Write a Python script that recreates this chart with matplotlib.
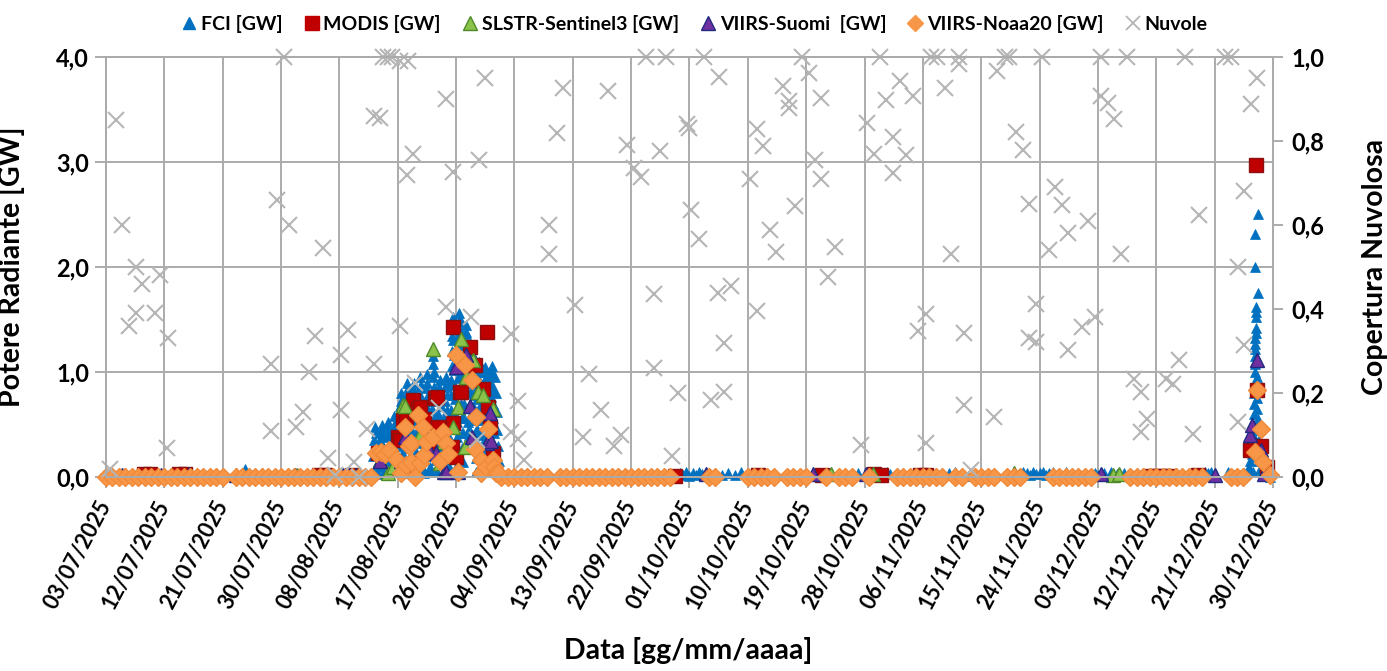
import matplotlib
matplotlib.use("Agg")
import matplotlib.pyplot as plt
import numpy as np
from matplotlib.lines import Line2D

plt.rcParams["font.family"] = ["Lato", "DejaVu Sans"]

# x values are days since 03/07/2025
date_labels = ["03/07/2025", "12/07/2025", "21/07/2025", "30/07/2025", "08/08/2025",
               "17/08/2025", "26/08/2025", "04/09/2025", "13/09/2025", "22/09/2025",
               "01/10/2025", "10/10/2025", "19/10/2025", "28/10/2025", "06/11/2025",
               "15/11/2025", "24/11/2025", "03/12/2025", "12/12/2025", "21/12/2025",
               "30/12/2025"]

# FCI - fire episode 17/08-01/09, one list of readings per day
fci_cluster_days = [41, 42, 43, 44, 45, 46, 47, 48, 49, 50, 51, 52, 53, 54, 55, 56, 57, 58, 59, 60]
fci_cluster_gw = [
    [0.02, 0.05, 0.2, 0.35, 0.48, 0.42, 0.28, 0.12],
    [0.03, 0.1, 0.22, 0.35, 0.46, 0.5, 0.4, 0.28, 0.15, 0.05],
    [0.04, 0.12, 0.25, 0.38, 0.48, 0.52, 0.43, 0.3, 0.18, 0.06],
    [0.05, 0.15, 0.28, 0.4, 0.5, 0.58, 0.5, 0.36, 0.22, 0.1],
    [0.06, 0.18, 0.3, 0.42, 0.55, 0.68, 0.8, 0.72, 0.6, 0.48, 0.35, 0.22, 0.1],
    [0.05, 0.15, 0.28, 0.4, 0.52, 0.65, 0.78, 0.9, 0.85, 0.72, 0.58, 0.45, 0.32, 0.2, 0.08],
    [0.04, 0.16, 0.3, 0.44, 0.58, 0.72, 0.84, 0.9, 0.8, 0.66, 0.52, 0.38, 0.24, 0.1],
    [0.05, 0.18, 0.32, 0.46, 0.6, 0.74, 0.86, 0.95, 0.88, 0.76, 0.62, 0.48, 0.34, 0.2, 0.08],
    [0.04, 0.16, 0.3, 0.44, 0.58, 0.72, 0.85, 0.98, 0.9, 0.78, 0.64, 0.5, 0.36, 0.22, 0.1],
    [0.06, 0.2, 0.35, 0.5, 0.65, 0.8, 0.95, 1.08, 1.15, 1.0, 0.86, 0.72, 0.58, 0.44, 0.3, 0.16],
    [0.05, 0.18, 0.32, 0.46, 0.6, 0.74, 0.86, 0.92, 0.82, 0.68, 0.54, 0.4, 0.26, 0.12],
    [0.04, 0.16, 0.3, 0.44, 0.58, 0.72, 0.86, 0.95, 0.9, 0.78, 0.64, 0.5, 0.36, 0.22, 0.1],
    [0.08, 0.22, 0.36, 0.5, 0.64, 0.78, 0.92, 1.06, 1.2, 1.34, 1.46, 1.52, 1.44, 1.3, 1.16, 1.02, 0.88, 0.74, 0.6, 0.46, 0.32, 0.18],
    [0.1, 0.24, 0.38, 0.52, 0.66, 0.8, 0.94, 1.08, 1.22, 1.36, 1.48, 1.56, 1.5, 1.4, 1.26, 1.12, 0.98, 0.84, 0.7, 0.56, 0.42, 0.28],
    [0.14, 0.28, 0.42, 0.56, 0.7, 0.84, 0.98, 1.12, 1.26, 1.38, 1.45, 1.36, 1.22, 1.08, 0.94, 0.8, 0.66, 0.52, 0.4],
    [0.36, 0.46, 0.58, 0.7, 0.82, 0.94, 1.06, 1.18, 1.25, 1.15, 1.02, 0.9, 0.78, 0.66, 0.54, 0.42],
    [0.05, 0.18, 0.32, 0.46, 0.6, 0.74, 0.88, 1.0, 1.1, 1.04, 0.92, 0.8, 0.68, 0.54, 0.4, 0.26, 0.12],
    [0.05, 0.18, 0.32, 0.46, 0.6, 0.74, 0.88, 1.0, 1.05, 0.95, 0.82, 0.68, 0.54, 0.4, 0.26, 0.12],
    [0.06, 0.2, 0.34, 0.48, 0.62, 0.76, 0.9, 1.02, 1.06, 0.96, 0.84, 0.7, 0.56, 0.42, 0.28, 0.14],
    [0.95, 0.8, 0.62, 0.45, 0.3, 0.15, 0.05, 0.02],
]

# FCI - end of December episode
fci_spike_days = [174.0, 174.5, 175.0, 175.5, 176.0, 176.3, 176.5, 176.7, 176.8, 176.9, 177.0, 177.0,
                  177.1, 177.1, 177.2, 177.2, 177.3, 177.3, 177.3, 177.3, 177.3, 177.35, 177.35,
                  177.4, 177.4, 177.4, 177.7, 177.3, 177.3, 177.7, 177.5, 177.6, 177.6, 177.6,
                  177.7, 177.7, 177.8, 177.8, 177.9, 178.0, 178.3, 178.6, 179.0, 179.5, 176.9,
                  177.0, 177.5, 177.2]
fci_spike_gw = [0.02, 0.03, 0.02, 0.04, 0.05, 0.1, 0.15, 0.22, 0.3, 0.4, 0.5, 0.6,
                0.7, 0.8, 0.9, 1.0, 1.08, 1.15, 1.22, 1.27, 1.32, 1.37, 1.42,
                1.52, 1.57, 1.62, 1.75, 2.0, 2.31, 2.5, 0.95, 0.85, 0.75, 0.65,
                0.55, 0.45, 0.35, 0.25, 0.15, 0.08, 0.05, 0.02, 0.01, 0.0, 0.05,
                0.2, 0.3, 0.35]

# FCI - quiet days
fci_low_days = [0, 1, 2, 3, 4, 5, 6, 7, 8, 9, 10, 11, 12, 13, 14, 15, 16, 17, 18, 20, 21, 21.5, 22, 23,
                24, 25, 26, 27, 28, 29, 30, 31, 32, 33, 34, 35, 36, 37, 38, 39, 40, 61, 62, 63, 64,
                65, 66, 67, 68, 70, 71, 72, 73, 74, 75, 76, 77, 78, 79, 80, 81, 82, 83, 84, 85, 86,
                87, 88, 88.5, 89, 89.5, 90, 90.5, 91, 91.5, 92, 95, 96, 97, 98, 99, 100, 101, 102,
                103, 105, 106, 107, 108, 109, 110, 111, 112, 113, 114, 115, 116, 117, 118, 119, 120,
                120.5, 121, 122, 123, 124, 125, 126, 127, 128, 129, 130, 131, 132, 133, 134, 135, 136,
                137, 139, 140, 141, 141.5, 142, 142.5, 143, 143.5, 144, 144.5, 145, 145.5, 146,
                147, 148, 149, 150, 151, 152, 152.5, 153, 154, 155, 156, 157, 158, 159, 160, 161,
                162, 163, 164, 165, 166, 167, 168, 169,
                169.5, 170, 170.5, 171, 173, 173.5]
fci_low_gw = [0.01, 0.02, 0.01, 0.03, 0.02, 0.01, 0.02, 0.03, 0.01, 0.02, 0.01, 0.02, 0.03, 0.01,
              0.02, 0.01, 0.02, 0.01, 0.02, 0.01, 0.02, 0.08, 0.01, 0.02,
              0.03, 0.01, 0.02, 0.01, 0.02, 0.03, 0.02, 0.01, 0.02, 0.01, 0.02, 0.01, 0.03, 0.02,
              0.01, 0.02, 0.03, 0.02, 0.01, 0.02, 0.01,
              0.02, 0.01, 0.02, 0.01, 0.02, 0.01, 0.02, 0.01, 0.02, 0.01, 0.02, 0.01, 0.02, 0.01,
              0.02, 0.01, 0.02, 0.01, 0.02, 0.01, 0.02,
              0.01, 0.02, 0.04, 0.02, 0.05, 0.01, 0.04, 0.02, 0.05, 0.03, 0.02, 0.04, 0.02, 0.05,
              0.01, 0.02, 0.01, 0.02,
              0.01, 0.02, 0.01, 0.02, 0.01, 0.02, 0.01, 0.02, 0.01, 0.02, 0.01, 0.02, 0.04, 0.02,
              0.01, 0.02, 0.04,
              0.05, 0.03, 0.01, 0.02, 0.01, 0.02, 0.01, 0.02, 0.01, 0.02, 0.04, 0.05, 0.02, 0.01,
              0.02, 0.02, 0.01,
              0.02, 0.03, 0.04, 0.02, 0.05, 0.04, 0.02, 0.05, 0.03, 0.04, 0.05, 0.02, 0.04, 0.05,
              0.03, 0.05, 0.02, 0.01, 0.02, 0.01, 0.04, 0.02, 0.04, 0.05, 0.03, 0.04, 0.02, 0.01,
              0.02, 0.01, 0.02, 0.01, 0.02, 0.01, 0.02, 0.04, 0.02, 0.03,
              0.05, 0.04, 0.05, 0.03, 0.05, 0.04]

modis_days = [5.8, 6.8, 11.2, 12.2, 32.8, 33.8, 37.9,
              41.9, 45.1, 45.3, 45.8, 46.3, 47.3, 47.6, 48.2, 48.4, 49.0, 49.9, 50.7, 51.0, 51.2,
              53.3, 53.5, 53.6, 54.0, 54.6, 54.8, 56.1, 56.9, 58.2, 58.8, 58.9, 59.2, 59.7,
              87.8, 100.5, 110.5, 118.5, 119.5, 125.5, 126.5, 161, 162, 163, 164, 168.5,
              176.4, 177.4, 177.5, 178.1, 179.0]
modis_gw = [0.03, 0.03, 0.03, 0.03, 0.02, 0.02, 0.02,
            0.23, 0.38, 0.35, 0.54, 0.57, 0.73, 0.62, 0.65, 0.67, 0.55, 0.29, 0.75, 0.76, 0.48,
            0.29, 1.43, 0.51, 0.19, 0.81, 0.81, 1.24, 1.07, 0.84, 1.38, 0.67, 0.48, 0.23,
            0.01, 0.02, 0.02, 0.03, 0.02, 0.02, 0.02, 0.01, 0.01, 0.01, 0.01, 0.02,
            0.26, 2.97, 0.83, 0.30, 0.10]

slstr_days = [24.0, 29.5, 42.2, 43.5, 44.2, 45.8, 46.1, 48.4, 48.9, 50.4, 51.5, 52.2, 53.5, 54.3,
              54.8, 55.3, 55.6, 56.6, 57.4, 58.2, 59.7, 111.8, 118.3, 140.0, 155.3, 156.2, 165.0]
slstr_gw = [0.02, 0.02, 0.16, 0.04, 0.10, 0.69, 0.68, 0.40, 0.24, 1.22, 0.13, 0.33, 0.48, 0.67,
            1.31, 0.29, 0.95, 1.11, 0.81, 0.78, 0.65, 0.03, 0.03, 0.04, 0.02, 0.03, 0.02]

suomi_days = [2.5, 3.0, 8.5, 12.8, 20.0, 29.2, 36.5, 37.5, 38.5,
              42.2, 45.5, 46.1, 47.3, 47.9, 49.9, 50.9, 52.2, 52.5, 54.0, 54.3, 55.6, 56.2, 56.4,
              58.7, 59.2, 59.4, 92.5, 109.0, 117.3, 125.0, 153.5, 171.0,
              176.5, 176.7, 177.5, 178.1, 178.6]
suomi_gw = [0.02, 0.02, 0.02, 0.03, 0.02, 0.02, 0.02, 0.02, 0.02,
            0.15, 0.15, 0.38, 0.08, 0.17, 0.26, 0.23, 0.05, 0.05, 1.05, 0.05, 1.16, 0.68, 0.38,
            0.32, 0.61, 0.34, 0.03, 0.03, 0.03, 0.02, 0.03, 0.02,
            0.40, 0.50, 1.11, 0.26, 0.03]

# VIIRS-Noaa20: days with a detection at ~0 GW, then the two fire episodes
noaa20_zero_days = [0, 1, 2, 3, 4, 5, 6, 7, 8, 9, 10, 11, 12, 13, 14, 15, 16, 17, 18, 20, 21, 22, 23,
                    24, 25, 26, 27, 28, 29, 30, 31, 32, 33, 34, 35, 36, 37, 38, 39, 40,
                    61, 62, 63, 64, 65, 66, 67, 68, 70, 71, 72, 73, 74, 75, 76, 77, 78, 79, 80, 81,
                    82, 83, 84, 85, 86, 87, 93, 94, 99, 100, 101, 102, 103, 105, 106, 107, 108, 111,
                    113, 114, 115, 117.7, 122, 123, 124, 125, 126, 127, 128, 129, 131, 132, 134, 135,
                    136, 137, 139, 140, 141, 146, 147, 148, 149, 150, 151, 152, 158, 159, 160, 161,
                    162, 163, 164, 165, 166, 167, 168, 169, 173.5, 174.5, 175.4]
noaa20_days = [40.9, 41.7, 42.4, 43.0, 43.7, 44.8, 45.5, 46.1, 46.3, 46.8, 47.1, 47.1, 47.6, 48.1,
               48.4, 48.9, 49.1, 49.4, 50.4, 51.5, 52.0, 52.5, 52.8, 54.0, 54.3, 55.3, 56.5, 56.9,
               57.1, 57.8, 57.9, 58.6, 58.9, 59.7, 59.8, 60.2, 60.5,
               177.2, 177.5, 178.1, 178.5, 179.6]
noaa20_gw = [0.0, 0.23, 0.24, 0.22, 0.26, 0.17, 0.04, 0.48, 0.11, 0.30, 0.32, 0.14, 0.0, 0.59,
             0.13, 0.48, 0.21, 0.33, 0.38, 0.15, 0.43, 0.32, 0.22, 1.16, 0.05, 1.07, 0.92, 0.27,
             0.57, 0.04, 0.16, 0.1, 0.46, 0.16, 0.1, 0.04, 0.04,
             0.24, 0.83, 0.46, 0.14, 0.02]

nuvole_days = [0.6, 1.5, 2.5, 3.6, 4.6, 4.6, 5.6, 7.5, 8.4, 9.5, 9.4, 25.4, 25.4, 26.4, 27.4, 28.3,
               29.3, 30.4, 31.3, 32.3, 33.4, 34.3, 35.3, 36.3, 36.3, 37.3, 38.3, 39.1, 40.2, 41.3,
               41.3, 42.2, 42.7, 43.5, 44.1, 45.3, 46.6, 46.4, 47.4, 45.4, 47.6, 51.4, 52.5, 53.5,
               52.4, 56.3, 57.5, 58.5, 57.3, 62.4, 63.5, 62.4, 63.5, 64.5, 68.3, 68.3, 69.5, 70.5,
               72.4, 73.5, 74.5, 76.4, 77.4, 78.3, 79.4, 80.4, 81.5, 82.5, 83.3, 84.5, 84.5, 85.4,
               86.4, 87.3, 88.3, 89.6, 89.9, 90.3, 91.4, 92.3, 93.3, 94.4, 94.5, 95.4, 95.4, 96.4,
               99.4, 100.4, 100.4, 101.4, 102.4, 103.3, 104.4, 105.3, 105.3, 106.3, 107.4, 108.4,
               109.3, 110.3, 110.3, 111.4, 112.4, 116.4, 117.4, 118.4, 119.4, 120.3, 121.4, 121.4,
               122.4, 123.4, 124.4, 125.3, 126.5, 126.5, 127.3, 128.2, 129.4, 130.4, 131.5, 131.5,
               132.4, 132.4, 133.4, 137.0, 137.4, 138.6, 139.3, 140.4, 141.4, 142.4, 142.4, 143.5,
               143.5, 144.4, 145.4, 146.4, 147.4, 148.4, 148.4, 150.5, 151.5, 152.5, 153.5, 153.5,
               154.5, 155.5, 156.6, 157.5, 158.5, 159.7, 160.5, 159.6, 163.5, 164.6, 165.5, 166.5,
               167.6, 168.6, 172.6, 173.6, 174.6, 174.6, 175.6, 175.6, 176.6, 177.6]
nuvole_frac = [0.02, 0.85, 0.60, 0.36, 0.39, 0.50, 0.46, 0.39, 0.48, 0.33, 0.07, 0.27, 0.11, 0.66,
               1.0, 0.60, 0.12, 0.155, 0.25, 0.335, 0.545, 0.045, 0.005, 0.29, 0.16, 0.35, 0.035,
               0.0, 0.115, 0.27, 0.86, 0.855, 1.0, 1.0, 1.0, 0.99, 0.99, 0.72, 0.77, 0.36, 0.225,
               0.165, 0.90, 0.725, 0.405, 0.38, 0.755, 0.95, 0.087, 0.34, 0.18, 0.107, 0.09, 0.04,
               0.60, 0.53, 0.82, 0.925, 0.41, 0.095, 0.245, 0.16, 0.92, 0.075, 0.10, 0.79, 0.735,
               0.715, 1.0, 0.435, 0.26, 0.775, 1.0, 0.05, 0.20, 0.84, 0.83, 0.635, 0.566, 1.0,
               0.183, 0.437, 0.952, 0.203, 0.318, 0.455, 0.71, 0.828, 0.396, 0.789, 0.588, 0.535,
               0.932, 0.895, 0.879, 0.645, 1.0, 0.962, 0.755, 0.902, 0.71, 0.477, 0.547, 0.076,
               0.843, 0.77, 1.0, 0.897, 0.81, 0.724, 0.942, 0.767, 0.908, 0.347, 0.387, 0.08, 1.0,
               1.0, 0.927, 0.531, 1.0, 0.984, 0.344, 0.171, 0.016, 0.143, 0.967, 1.0, 1.0, 0.821,
               0.779, 0.650, 0.33, 0.412, 0.322, 1.0, 0.54, 0.69, 0.647, 0.58, 0.302, 0.356, 0.61,
               0.382, 1.0, 0.906, 0.89, 0.853, 0.531, 1.0, 0.234, 0.203, 0.139, 0.107, 0.234,
               0.222, 0.278, 1.0, 0.103, 0.624, 1.0, 1.0, 0.131, 0.50, 0.68, 0.314, 0.887, 0.95]

# spread each day's FCI readings over that day
fci_x, fci_y = [], []
for d, vals in zip(fci_cluster_days, fci_cluster_gw):
    n = len(vals)
    fci_x += [d + i / n for i in range(n)]
    fci_y += vals
fci_x += fci_low_days + fci_spike_days
fci_y += fci_low_gw + fci_spike_gw

noaa_x = noaa20_zero_days + noaa20_days
noaa_y = [0.0] * len(noaa20_zero_days) + noaa20_gw

grid_col = "#ABABAB"

fig = plt.figure(figsize=(13.87, 6.71), dpi=100)
ax = fig.add_axes([0.0764, 0.2891, 0.8414, 0.626])
ax2 = ax.twinx()

kw = dict(linestyle="none", clip_on=False)
ax.plot(fci_x, fci_y, marker="^", ms=6.5, color="#0070C0", mec="#0070C0", mew=0.5, **kw)
ax.plot(modis_days, modis_gw, marker="s", ms=10, mfc="#C00000", mec="#8C1010", mew=1, **kw)
ax.plot(slstr_days, slstr_gw, marker="^", ms=10.5, mfc="#8BC34A", mec="#4E8A2A", mew=1, **kw)
ax.plot(suomi_days, suomi_gw, marker="^", ms=10.5, mfc="#7030A0", mec="#1F2A80", mew=1, **kw)
ax.plot(noaa_x, noaa_y, marker="D", ms=9, mfc="#F79646", mec="#F08A3A", mew=1, **kw)
ax2.plot(nuvole_days, nuvole_frac, marker="x", ms=12, color="#B5B5B5", mew=1.5, **kw)

ax.set_xlim(0, 180)
ax.set_ylim(0, 4)
ax2.set_ylim(0, 1)
ax.set_xticks(np.arange(0, 181, 9))
ax.set_xticklabels(date_labels, rotation=62, ha="right", va="center", rotation_mode="anchor",
                   fontsize=15.5, fontweight="bold")
ax.set_yticks([0, 1, 2, 3, 4])
ax.set_yticklabels(["0,0", "1,0", "2,0", "3,0", "4,0"], fontsize=17, fontweight="bold")
ax2.set_yticks([0, 0.2, 0.4, 0.6, 0.8, 1.0])
ax2.set_yticklabels(["0,0", "0,2", "0,4", "0,6", "0,8", "1,0"], fontsize=17, fontweight="bold")

ax.grid(True, color=grid_col, lw=1.4)
ax.set_axisbelow(True)
for a in (ax, ax2):
    for s in a.spines.values():
        s.set_color(grid_col)
        s.set_linewidth(1.4)
ax.tick_params(axis="both", direction="out", length=8, width=1.4, color=grid_col, pad=4)
ax.tick_params(axis="x", pad=10)
ax2.tick_params(axis="y", direction="out", length=7, width=1.4, color=grid_col, pad=6)

ax.set_ylabel("Potere Radiante [GW]", fontsize=20.5, fontweight="bold")
ax.yaxis.set_label_coords(-0.069, 0.5)
ax2.set_ylabel("Copertura Nuvolosa", fontsize=20.5, fontweight="bold", rotation=90)
ax2.yaxis.set_label_coords(1.076, 0.5)
ax.set_xlabel("Data [gg/mm/aaaa]", fontsize=20.5, fontweight="bold")
ax.xaxis.set_label_coords(0.499, -0.38)

handles = [
    Line2D([], [], linestyle="none", marker="^", ms=8, color="#0070C0"),
    Line2D([], [], linestyle="none", marker="s", ms=10, mfc="#C00000", mec="#C00000"),
    Line2D([], [], linestyle="none", marker="^", ms=10, mfc="#8BC34A", mec="#4E8A2A"),
    Line2D([], [], linestyle="none", marker="^", ms=10, mfc="#7030A0", mec="#1F2A80"),
    Line2D([], [], linestyle="none", marker="D", ms=8, mfc="#F79646", mec="#F79646"),
    Line2D([], [], linestyle="none", marker="x", ms=10, color="#B5B5B5", mew=1.3),
]
labels = ["FCI [GW]", "MODIS [GW]", "SLSTR-Sentinel3 [GW]", "VIIRS-Suomi  [GW]",
          "VIIRS-Noaa20 [GW]", "Nuvole"]
fig.legend(handles, labels, loc="center", bbox_to_anchor=(0.50, 0.964), ncol=6, frameon=False,
           prop={"size": 14, "weight": "bold"}, handletextpad=0.1, columnspacing=1.0,
           handlelength=1.0)

fig.savefig("out.png", dpi=100)
